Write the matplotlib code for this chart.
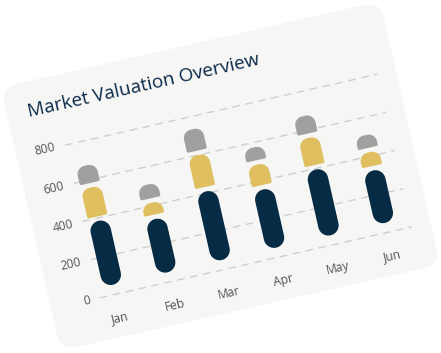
import numpy as np
import matplotlib
matplotlib.use("Agg")
import matplotlib.pyplot as plt
from matplotlib.patches import FancyBboxPatch, PathPatch
from matplotlib.path import Path
from matplotlib.transforms import Affine2D

# data
months = ["Jan", "Feb", "Mar", "Apr", "May", "Jun"]
base = 50
dark = [335, 280, 360, 305, 345, 275]
gold = [175, 85, 190, 130, 165, 95]
gray = [115, 95, 135, 90, 115, 90]
yticks = [0, 200, 400, 600, 800]

W, H = 441, 353
plt.rcParams['lines.scale_dashes'] = False
plt.rcParams['font.family'] = ['Open Sans', 'DejaVu Sans']

fig = plt.figure(figsize=(W / 100, H / 100), dpi=100)
ax = fig.add_axes([0, 0, 1, 1])
ax.set_xlim(0, W)
ax.set_ylim(0, H)
ax.axis('off')

# the whole card is tilted
angle = 12.8
rot = Affine2D().rotate_deg_around(220.5, 176.5, angle) + ax.transData
# category index / value -> flat card pixels
scale = Affine2D().scale(55.8, 0.1956).translate(91.7, 85)

card = FancyBboxPatch((26, 42), 389, 270, boxstyle="round,pad=0,rounding_size=17",
                      fc="#f6f6f4", ec="none", transform=rot, zorder=1)
ax.add_patch(card)

# gridlines + y labels
for v in yticks:
    _, y = scale.transform((0, v))
    ax.plot([76, 396], [y, y], color="#cfcfcf", lw=1, dashes=(5.5, 4),
            transform=rot, zorder=2)
    ax.text(66, y, str(v), ha="right", va="center", fontsize=8.7, color="#555555",
            rotation=angle, rotation_mode="anchor", transform=rot, zorder=3)


def corner(cx, cy, r, a0, a1):
    t = np.linspace(a0, a1, 12)
    return np.column_stack([cx + r * np.cos(t), cy + r * np.sin(t)])


def seg_path(xc, yb, yt, w, rc, round_bottom):
    l, rr = xc - w / 2, xc + w / 2
    pts = [corner(rr - rc, yt - rc, rc, 0, np.pi / 2),
           corner(l + rc, yt - rc, rc, np.pi / 2, np.pi)]
    if round_bottom:
        pts += [corner(l + rc, yb + rc, rc, np.pi, 1.5 * np.pi),
                corner(rr - rc, yb + rc, rc, 1.5 * np.pi, 2 * np.pi)]
    else:
        pts += [np.array([[l, yb + 1], [l + 1, yb], [rr - 1, yb], [rr, yb + 1]])]
    verts = np.vstack(pts + [pts[0][:1]])
    return Path(verts, closed=True)


bw = 20.5
gap = 4.5
for i in range(len(months)):
    stack = [base, base + dark[i], base + dark[i] + gold[i], base + dark[i] + gold[i] + gray[i]]
    xc, y_a = scale.transform((i, stack[0]))
    _, y_b = scale.transform((i, stack[1]))
    _, y_c = scale.transform((i, stack[2]))
    _, y_d = scale.transform((i, stack[3]))
    for yb, yt, col, rc, rb in [(y_a, y_b, "#062b45", bw / 2, True),
                                (y_b + gap, y_c, "#dfbf60", 8.5, False),
                                (y_c + gap, y_d, "#a0a0a0", 8.5, False)]:
        ax.add_patch(PathPatch(seg_path(xc, yb, yt, bw, rc, rb), fc=col, ec="none",
                               transform=rot, zorder=4))
    ax.text(xc, 61, months[i], ha="center", va="center", fontsize=8.7, color="#555555",
            rotation=angle, rotation_mode="anchor", transform=rot, zorder=3)

ax.text(47, 277, "Market Valuation Overview", ha="left", va="baseline", fontsize=13.6,
        color="#0b2a4a", rotation=angle, rotation_mode="anchor", transform=rot, zorder=3)

fig.savefig("out.png", dpi=100, facecolor="white")
